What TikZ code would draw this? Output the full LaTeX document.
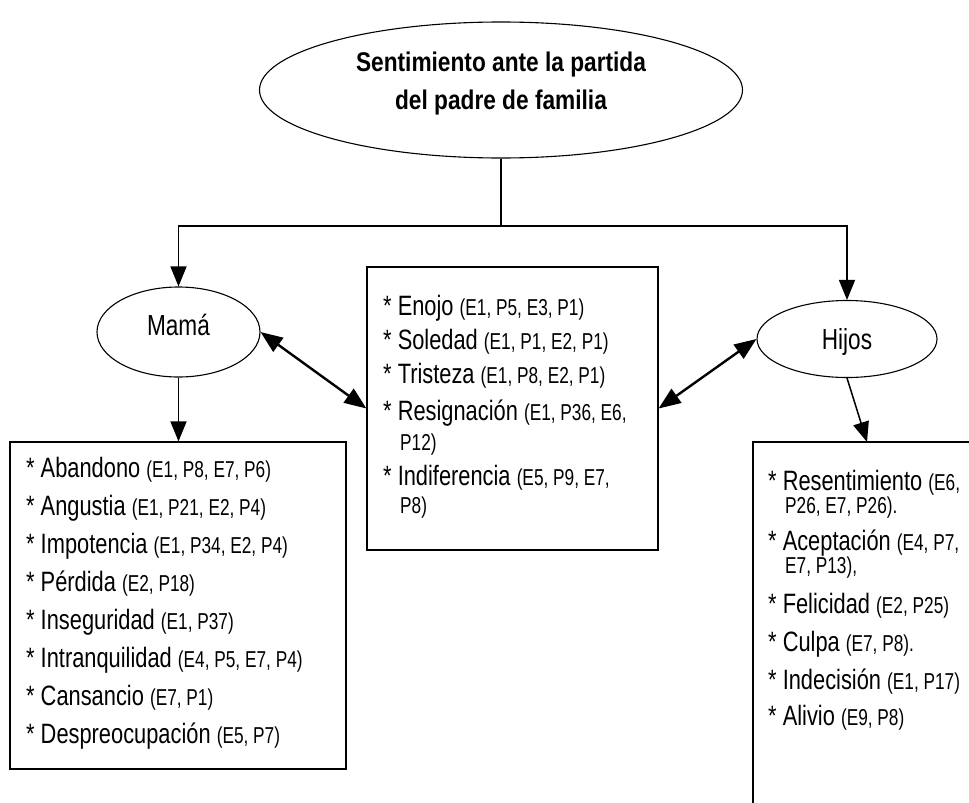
\documentclass[tikz,border=0pt]{standalone}
\usepackage{fontspec}
\setmainfont[FakeStretch=0.78]{Liberation Sans}
\newfontfamily\reffont[FakeStretch=0.75]{Liberation Sans}
\newfontfamily\titlefont[FakeStretch=0.84]{Liberation Sans}
\usetikzlibrary{shapes.geometric,arrows.meta}
\newcommand\refpart[1]{{\reffont\fontsize{23}{23}\selectfont #1}}
\tikzset{
  oval/.style={draw, ellipse, line width=1.1pt, inner sep=0pt},
  boxshape/.style={draw, rectangle, line width=1.2pt, inner sep=0pt},
  item/.style={anchor=base west, inner sep=0pt, font=\fontsize{28}{28}\selectfont},
  ttl/.style={anchor=base, inner sep=0pt, font=\titlefont\bfseries\fontsize{27}{27}\selectfont},
  lbl/.style={anchor=base, inner sep=0pt, font=\fontsize{29}{29}\selectfont},
  conn/.style={line width=1.5pt},
  arr/.style={line width=1.5pt, -{Triangle[length=20pt,width=16pt]}},
  darr/.style={line width=2.4pt, {Triangle[length=22pt,width=17pt]}-{Triangle[length=22pt,width=17pt]}}
}
\begin{document}
\begin{tikzpicture}[x=1pt,y=-1pt]
\clip (0,0) rectangle (969,803);
\fill[white] (0,0) rectangle (969,803);
% ellipses
\node[oval, minimum width=483pt, minimum height=136pt] (top) at (501,90) {};
\node[ttl] (t1) at (501,71) {Sentimiento ante la partida};
\node[ttl] (t2) at (501,109) {del padre de familia};
\node[oval, minimum width=163pt, minimum height=90pt] (mama) at (178.5,332) {};
\node[lbl] (mamat) at (178.5,335) {Mamá};
\node[oval, minimum width=180pt, minimum height=77pt] (hijos) at (847,339) {};
\node[lbl] (hijost) at (847,349) {Hijos};
% boxes
\node[boxshape, minimum width=336pt, minimum height=327pt] (lbox) at (178,605.5) {};
\node[boxshape, minimum width=291pt, minimum height=283pt] (mid) at (512.5,408.5) {};
\node[boxshape, minimum width=247pt, minimum height=388pt] (rbox) at (876.5,636) {};
% connectors
\coordinate (j) at (501,226);
\coordinate (rin) at (867,442);
\draw[conn] (top.south) -- (j);
\draw[arr] (j) -| (mama.north);
\draw[arr] (j) -| (hijos.north);
\draw[arr] (mama.south) -- (mama.south |- lbox.north);
\draw[arr] (hijos.south) -- (rin);
\draw[darr] (mama.east) -- (mid.west);
\draw[darr] (hijos.west) -- (mid.east);
% middle box text
\node[item] (m1) at (383,315) {* Enojo \refpart{(E1, P5, E3, P1)}};
\node[item] (m2) at (383,349) {* Soledad \refpart{(E1, P1, E2, P1)}};
\node[item] (m3) at (383,383) {* Tristeza \refpart{(E1, P8, E2, P1)}};
\node[item] (m4) at (383,420) {* Resignación \refpart{(E1, P36, E6,}};
\node[item] (m4b) at (400,450) {\refpart{P12)}};
\node[item] (m5) at (383,485) {* Indiferencia \refpart{(E5, P9, E7,}};
\node[item] (m5b) at (400,513) {\refpart{P8)}};
% left box text
\node[item] (l1) at (26,477) {* Abandono \refpart{(E1, P8, E7, P6)}};
\node[item] (l2) at (26,515) {* Angustia \refpart{(E1, P21, E2, P4)}};
\node[item] (l3) at (26,553) {* Impotencia \refpart{(E1, P34, E2, P4)}};
\node[item] (l4) at (26,591) {* Pérdida \refpart{(E2, P18)}};
\node[item] (l5) at (26,629) {* Inseguridad \refpart{(E1, P37)}};
\node[item] (l6) at (26,667) {* Intranquilidad \refpart{(E4, P5, E7, P4)}};
\node[item] (l7) at (26,705) {* Cansancio \refpart{(E7, P1)}};
\node[item] (l8) at (26,743) {* Despreocupación \refpart{(E5, P7)}};
% right box text
\node[item] (r1) at (768,490) {* Resentimiento \refpart{(E6,}};
\node[item] (r1b) at (785,513) {\refpart{P26, E7, P26).}};
\node[item] (r2) at (768,550) {* Aceptación \refpart{(E4, P7,}};
\node[item] (r2b) at (785,573) {\refpart{E7, P13),}};
\node[item] (r3) at (768,613) {* Felicidad \refpart{(E2, P25)}};
\node[item] (r4) at (768,651) {* Culpa \refpart{(E7, P8).}};
\node[item] (r5) at (768,689) {* Indecisión \refpart{(E1, P17)}};
\node[item] (r6) at (768,725) {* Alivio \refpart{(E9, P8)}};
\end{tikzpicture}
\end{document}
